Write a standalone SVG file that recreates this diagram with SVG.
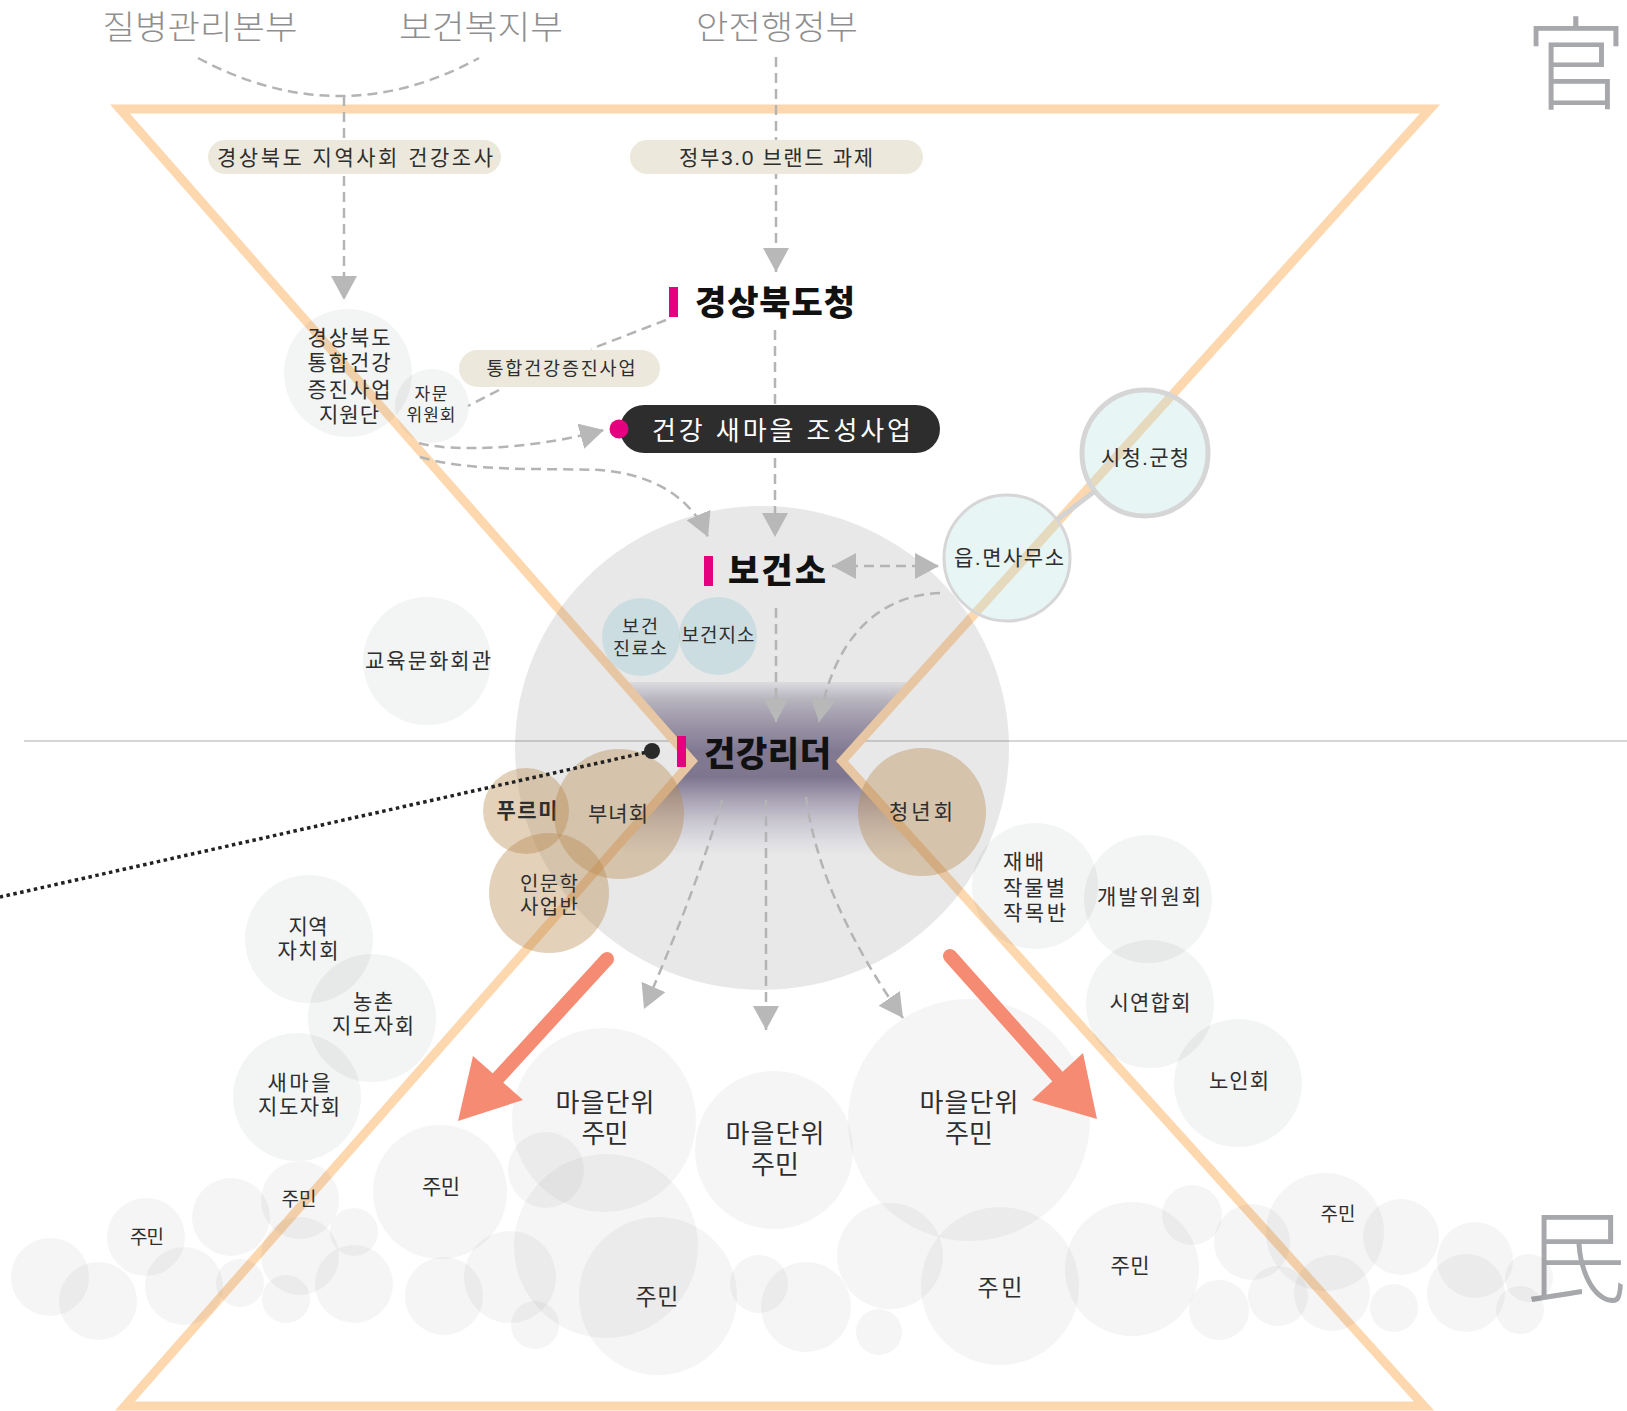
<svg xmlns="http://www.w3.org/2000/svg" width="1627" height="1411" viewBox="0 0 1627 1411">
<defs>
<style>
.t{font-family:'Liberation Sans','Noto Sans CJK KR','Noto Sans',sans-serif;fill:#2e2e2e;text-anchor:middle;}
.ts{font-family:'Liberation Sans','Noto Sans CJK KR','Noto Sans',sans-serif;fill:#2e2e2e;text-anchor:start;}
.min{font-size:33px;fill:#8f8f8f;font-weight:300;}
.han{font-size:102px;fill:#a7a8ab;font-weight:300;text-anchor:end;}
.head{font-size:34px;font-weight:900;fill:#111;}
.bar{fill:#e5007f;}
.bub{fill:#666;fill-opacity:0.065;}
.lbub{fill:#5a6e6e;fill-opacity:0.075;}
.tan{fill:#b5874a;fill-opacity:0.38;}
.blue{fill:#8fc7cf;fill-opacity:0.32;}
.cyan{fill:#b8dfe0;fill-opacity:0.32;stroke:#d6d6d6;}
.pill{fill:#ece9dc;}
.dash{fill:none;stroke:#b4b4b4;stroke-width:2.5;stroke-dasharray:10 6;}
.arw{fill:#f58b72;}
</style>
<marker id="ah" viewBox="0 0 24 26" refX="24" refY="13" markerWidth="24" markerHeight="26" markerUnits="userSpaceOnUse" orient="auto-start-reverse">
<path d="M0,0 L24,13 L0,26 Z" fill="#b8b8b8"/>
</marker>
<linearGradient id="band" x1="0" y1="682" x2="0" y2="855" gradientUnits="userSpaceOnUse">
<stop offset="0" stop-color="#f1f1f5"/>
<stop offset="0.1" stop-color="#c6c3cf"/>
<stop offset="0.22" stop-color="#aaa3b7"/>
<stop offset="0.4" stop-color="#877d9b"/>
<stop offset="0.55" stop-color="#837a97"/>
<stop offset="0.68" stop-color="#b5aec3"/>
<stop offset="0.8" stop-color="#d9d6e2"/>
<stop offset="0.92" stop-color="#f3f2f8"/>
<stop offset="1" stop-color="#ffffff"/>
</linearGradient>
</defs>

<g id="backdrop">
<line x1="24" y1="741" x2="1627" y2="741" stroke="#d6d6d6" stroke-width="2"/>
<polygon points="623,682 913,682 842,761 914,841 914,855 623,855 623,839 692,761" fill="url(#band)"/>
<polygon id="hourglass" points="120,109 1430,109 842,761 1424,1406 125,1406 692,761" fill="none" stroke="#fdd7ae" stroke-width="9" stroke-linejoin="miter"/>
<ellipse id="bigcircle" cx="762" cy="748" rx="247" ry="242" fill="#666" fill-opacity="0.15"/>
<text class="t min" x="200" y="39" textLength="195" lengthAdjust="spacingAndGlyphs">질병관리본부</text>
<text class="t min" x="481" y="39" textLength="164" lengthAdjust="spacingAndGlyphs">보건복지부</text>
<text class="t min" x="777" y="39" textLength="162" lengthAdjust="spacingAndGlyphs">안전행정부</text>
<text class="t han" x="1627" y="102">官</text>
<text class="t han" x="1627" y="1295">民</text>
</g>

<g id="background-bubbles">
<circle class="bub" cx="50" cy="1277" r="39"/>
<circle class="bub" cx="98" cy="1301" r="39"/>
<circle class="bub" cx="184" cy="1286" r="39"/>
<circle class="bub" cx="231" cy="1217" r="39"/>
<circle class="bub" cx="240" cy="1283" r="24"/>
<circle class="bub" cx="300" cy="1256" r="39"/>
<circle class="bub" cx="286" cy="1299" r="24"/>
<circle class="bub" cx="354" cy="1232" r="24"/>
<circle class="bub" cx="354" cy="1284" r="39"/>
<circle class="bub" cx="444" cy="1296" r="39"/>
<circle class="bub" cx="510" cy="1277" r="46"/>
<circle class="bub" cx="535" cy="1325" r="24"/>
<circle class="bub" cx="546" cy="1170" r="38"/>
<circle class="bub" cx="606" cy="1246" r="92"/>
<circle class="bub" cx="759" cy="1284" r="29"/>
<circle class="bub" cx="806" cy="1307" r="45"/>
<circle class="bub" cx="879" cy="1332" r="23"/>
<circle class="bub" cx="890" cy="1256" r="53"/>
<circle class="bub" cx="1192" cy="1215" r="30"/>
<circle class="bub" cx="1219" cy="1310" r="30"/>
<circle class="bub" cx="1252" cy="1242" r="38"/>
<circle class="bub" cx="1278" cy="1296" r="30"/>
<circle class="bub" cx="1332" cy="1293" r="38"/>
<circle class="bub" cx="1401" cy="1237" r="38"/>
<circle class="bub" cx="1394" cy="1308" r="24"/>
<circle class="bub" cx="1475" cy="1260" r="38"/>
<circle class="bub" cx="1466" cy="1293" r="39"/>
<circle class="bub" cx="1529" cy="1278" r="24"/>
<circle class="bub" cx="1520" cy="1310" r="24"/>
</g>

<g id="n-jiwondan"><circle class="lbub" cx="348" cy="373" r="64"/>
<text class="t" font-size="21"><tspan x="349" y="345" textLength="83">경상북도</tspan><tspan x="349" y="370" textLength="83">통합건강</tspan><tspan x="349" y="397" textLength="83">증진사업</tspan><tspan x="349" y="422" textLength="60">지원단</tspan></text></g>
<g id="n-jamun"><circle class="lbub" cx="432" cy="406" r="37"/>
<text class="t" font-size="17"><tspan x="431" y="400" textLength="33">자문</tspan><tspan x="431" y="421" textLength="49">위원회</tspan></text></g>
<g id="n-gyoyuk"><circle class="lbub" cx="427" cy="661" r="64"/>
<text class="t" font-size="21" x="428" y="668" textLength="126">교육문화회관</text></g>
<g id="n-jinryoso"><circle class="blue" cx="641" cy="637" r="39"/>
<text class="t" font-size="18.5"><tspan x="640" y="633" textLength="36">보건</tspan><tspan x="640" y="655" textLength="54">진료소</tspan></text></g>
<g id="n-jiso"><circle class="blue" cx="718" cy="636" r="39"/>
<text class="t" font-size="19" x="718" y="642" textLength="73">보건지소</text></g>
<g id="n-eupmyeon"><circle class="cyan" cx="1007" cy="558" r="63" stroke-width="3"/>
<text class="t" font-size="21" x="1009" y="565" textLength="110">읍.면사무소</text></g>
<g id="n-sicheong"><circle class="cyan" cx="1145" cy="453" r="63" stroke-width="5"/>
<text class="t" font-size="21" x="1145" y="465" textLength="88">시청.군청</text></g>
<g id="n-purumi"><circle class="tan" cx="526" cy="811" r="43"/>
<text class="t" font-size="21" x="527" y="818" textLength="61" font-weight="700">푸르미</text></g>
<g id="n-bunyeo"><circle class="tan" cx="619" cy="814" r="65"/>
<text class="t" font-size="21" x="618" y="821" textLength="60">부녀회</text></g>
<g id="n-inmun"><circle class="tan" cx="549" cy="893" r="60"/>
<text class="t" font-size="20"><tspan x="549" y="891" textLength="58">인문학</tspan><tspan x="549" y="914" textLength="58">사업반</tspan></text></g>
<g id="n-cheongnyeon"><circle class="tan" cx="922" cy="812" r="64"/>
<text class="t" font-size="21" x="921" y="819" textLength="64">청년회</text></g>
<g id="n-jachi"><circle class="lbub" cx="309" cy="939" r="64"/>
<text class="t" font-size="21"><tspan x="308" y="934" textLength="39">지역</tspan><tspan x="308" y="958" textLength="61">자치회</tspan></text></g>
<g id="n-nongchon"><circle class="lbub" cx="372" cy="1018" r="64"/>
<text class="t" font-size="21"><tspan x="373" y="1009" textLength="40">농촌</tspan><tspan x="373" y="1033" textLength="82">지도자회</tspan></text></g>
<g id="n-saemaeul"><circle class="lbub" cx="297" cy="1097" r="64"/>
<text class="t" font-size="21"><tspan x="299" y="1090" textLength="63">새마을</tspan><tspan x="299" y="1114" textLength="82">지도자회</tspan></text></g>
<g id="n-jakmok"><circle class="lbub" cx="1035" cy="886" r="63"/>
<text class="ts" font-size="21"><tspan x="1003" y="869" textLength="41">재배</tspan><tspan x="1003" y="895" textLength="62">작물별</tspan><tspan x="1003" y="920" textLength="63">작목반</tspan></text></g>
<g id="n-gaebal"><circle class="lbub" cx="1148" cy="899" r="64"/>
<text class="t" font-size="21" x="1149" y="904" textLength="104">개발위원회</text></g>
<g id="n-siyeonhap"><circle class="lbub" cx="1150" cy="1004" r="64"/>
<text class="t" font-size="21" x="1150" y="1010" textLength="81">시연합회</text></g>
<g id="n-noin"><circle class="lbub" cx="1238" cy="1083" r="64"/>
<text class="t" font-size="21" x="1239" y="1088" textLength="60">노인회</text></g>
<g id="n-maeul1"><circle class="bub" cx="604" cy="1120" r="92"/>
<text class="t" font-size="26"><tspan x="605" y="1112" textLength="99">마을단위</tspan><tspan x="605" y="1143" textLength="47">주민</tspan></text></g>
<g id="n-maeul2"><circle class="bub" cx="774" cy="1150" r="79"/>
<text class="t" font-size="26"><tspan x="775" y="1143" textLength="99">마을단위</tspan><tspan x="775" y="1174" textLength="48">주민</tspan></text></g>
<g id="n-maeul3"><circle class="bub" cx="969" cy="1120" r="121"/>
<text class="t" font-size="26"><tspan x="969" y="1112" textLength="99">마을단위</tspan><tspan x="969" y="1143" textLength="48">주민</tspan></text></g>
<g id="n-jumin1"><circle class="bub" cx="440" cy="1192" r="67"/>
<text class="t" font-size="21" x="441" y="1194" textLength="38">주민</text></g>
<g id="n-jumin2"><circle class="bub" cx="300" cy="1200" r="39"/>
<text class="t" font-size="19" x="299" y="1206" textLength="35">주민</text></g>
<g id="n-jumin3"><circle class="bub" cx="146" cy="1237" r="39"/>
<text class="t" font-size="19" x="147" y="1244" textLength="34">주민</text></g>
<g id="n-jumin4"><circle class="bub" cx="658" cy="1296" r="79"/>
<text class="t" font-size="23" x="657" y="1305" textLength="43">주민</text></g>
<g id="n-jumin5"><circle class="bub" cx="1000" cy="1286" r="79"/>
<text class="t" font-size="23" x="1000" y="1296" textLength="45">주민</text></g>
<g id="n-jumin6"><circle class="bub" cx="1132" cy="1269" r="67"/>
<text class="t" font-size="21" x="1130" y="1273" textLength="39">주민</text></g>
<g id="n-jumin7"><circle class="bub" cx="1325" cy="1232" r="59"/>
<text class="t" font-size="19" x="1338" y="1221" textLength="35">주민</text></g>

<g id="connectors">
<path class="dash" d="M198 58 Q340 134 479 58"/>
<path class="dash" d="M344 96 V300" marker-end="url(#ah)"/>
<path class="dash" d="M776 57 V272" marker-end="url(#ah)"/>
<path class="dash" d="M666 320 L591 349"/>
<path class="dash" d="M499 390 L468 406"/>
<path class="dash" d="M775 330 V537" marker-end="url(#ah)"/>
<path class="dash" d="M419 443 C450 452 530 450 604 430" marker-end="url(#ah)"/>
<path class="dash" d="M420 457 C470 472 540 468 600 470 C650 474 690 495 708 537" marker-end="url(#ah)"/>
<path class="dash" d="M832 566 H939" marker-start="url(#ah)" marker-end="url(#ah)"/>
<path class="dash" d="M940 593 C885 595 835 630 819 722" marker-end="url(#ah)"/>
<path class="dash" d="M776 608 V722" marker-end="url(#ah)"/>
<path class="dash" d="M722 800 Q700 880 644 1009" marker-end="url(#ah)"/>
<path class="dash" d="M766 800 V1030" marker-end="url(#ah)"/>
<path class="dash" d="M806 797 Q820 900 903 1018" marker-end="url(#ah)"/>
<line x1="1057" y1="520" x2="1095" y2="491" stroke="#d3d3d3" stroke-width="5"/>
<line x1="652" y1="751" x2="0" y2="897" stroke="#222" stroke-width="3.5" stroke-dasharray="3.5 3.5"/>
<circle cx="652" cy="751" r="8" fill="#2a2a2a"/>
<g id="salmon-left"><line x1="607" y1="959" x2="498" y2="1078" stroke="#f58b72" stroke-width="14" stroke-linecap="round"/>
<polygon class="arw" points="473,1056 523,1100 458,1121"/></g>
<g id="salmon-right"><line x1="950" y1="956" x2="1057" y2="1076" stroke="#f58b72" stroke-width="14" stroke-linecap="round"/>
<polygon class="arw" points="1083,1053 1032,1100 1097,1119"/></g>
</g>

<g id="n-survey"><rect class="pill" x="208" y="140" width="293" height="34" rx="17"/>
<text class="t" font-size="21" x="355" y="165" textLength="276">경상북도  지역사회  건강조사</text></g>
<g id="n-gov30"><rect class="pill" x="630" y="140" width="293" height="34" rx="17"/>
<text class="t" font-size="21" x="776" y="165" textLength="194">정부3.0  브랜드  과제</text></g>
<g id="n-tonghap"><rect class="pill" x="459" y="350" width="201" height="37" rx="18.5"/>
<text class="t" font-size="18.5" x="561" y="375" textLength="149">통합건강증진사업</text></g>
<g id="n-saemaeulproject"><rect x="620" y="405" width="320" height="48" rx="24" fill="#2d2d2d"/>
<circle cx="619" cy="429" r="9.5" fill="#e5007f"/>
<text class="ts" x="652" y="440" font-size="26" style="fill:#fff" textLength="259">건강  새마을  조성사업</text></g>
<g id="n-gyeongbuk"><rect class="bar" x="669" y="287" width="9" height="30"/>
<text class="ts head" x="695" y="315" textLength="160">경상북도청</text></g>
<g id="n-bogeonso"><rect class="bar" x="704" y="556" width="9" height="30"/>
<text class="ts head" x="728" y="583" textLength="98">보건소</text></g>
<g id="n-leader"><rect class="bar" x="677" y="736" width="9" height="31"/>
<text class="ts head" x="704" y="766" textLength="127">건강리더</text></g>
</svg>
